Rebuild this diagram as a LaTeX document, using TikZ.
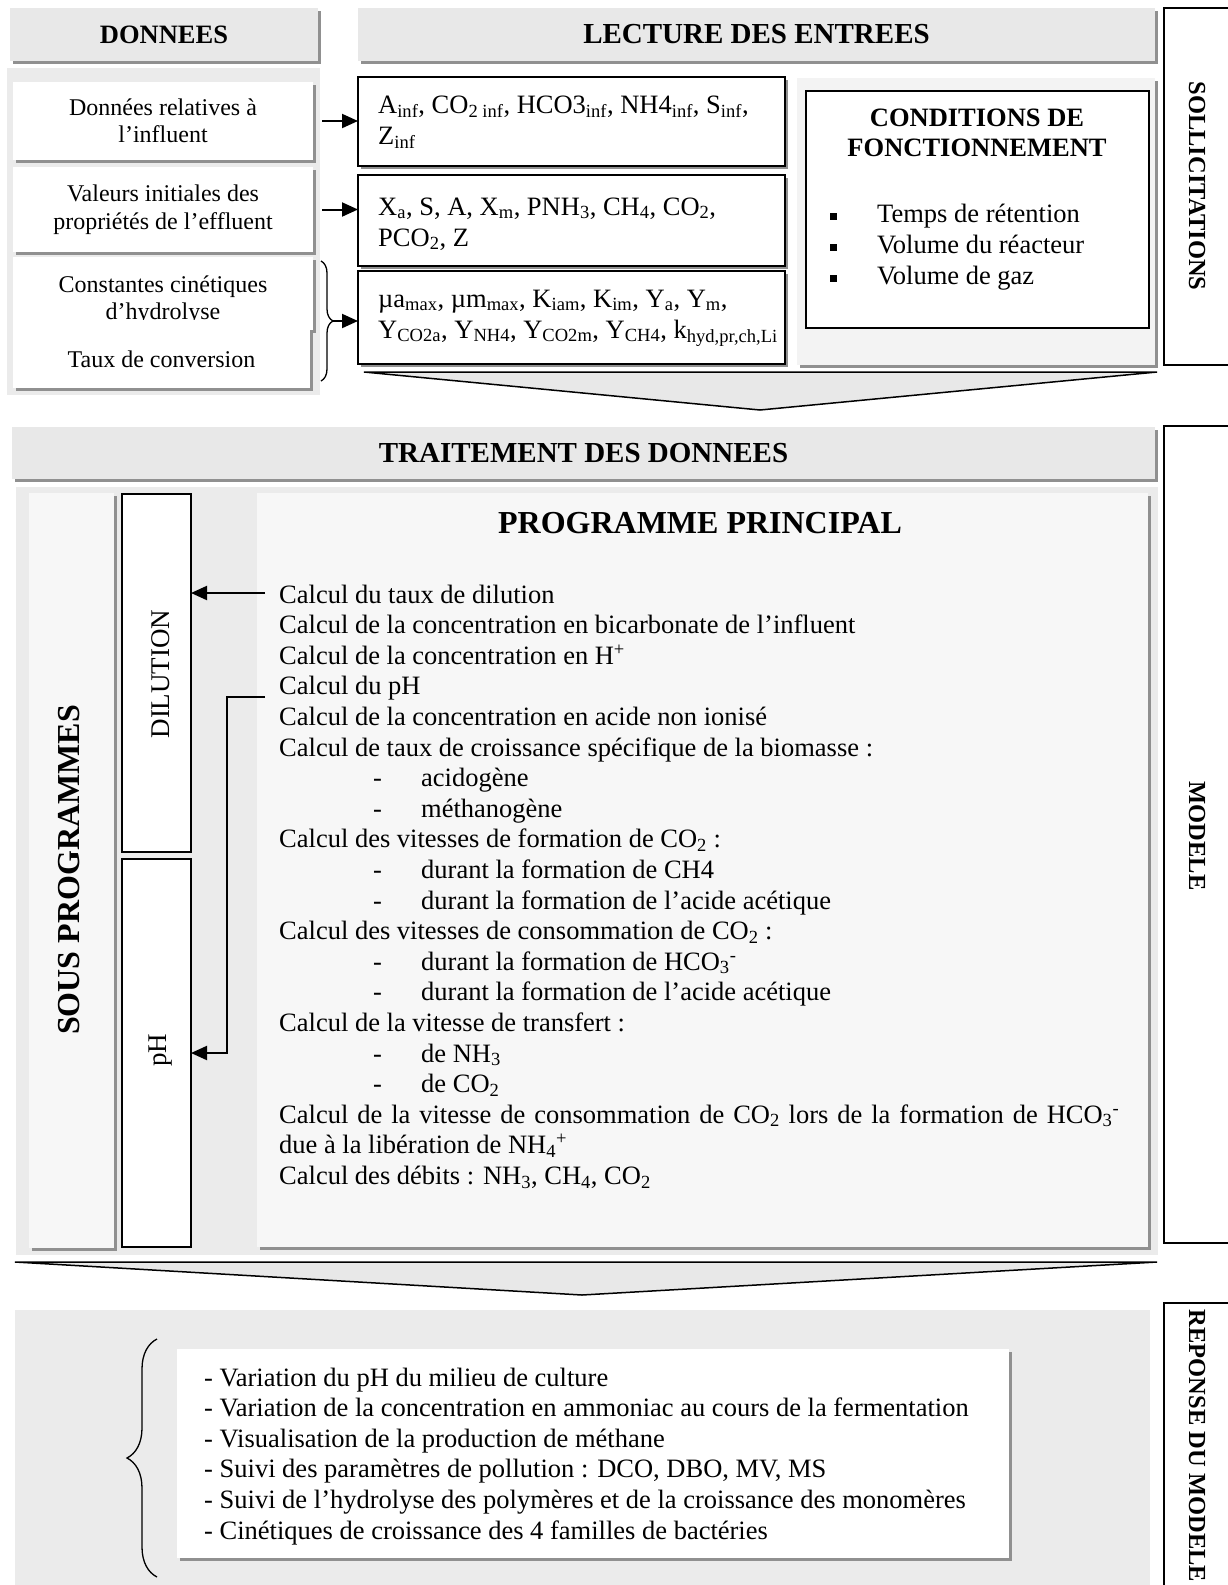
\documentclass[tikz,border=0pt]{standalone}
\usepackage{fontspec}
\setmainfont{Liberation Serif}
\usetikzlibrary{arrows.meta,shadows,decorations.pathreplacing}
\definecolor{hdr}{HTML}{E8E8E8}
\definecolor{pan}{HTML}{EBEBEB}
\definecolor{inn}{HTML}{F7F7F7}
\definecolor{cpn}{HTML}{F3F3F3}
\definecolor{shd}{HTML}{909090}
\newcommand{\sbs}[1]{\textsubscript{#1}}
\newcommand{\sps}[1]{\textsuperscript{#1}}
\newcommand{\dashitem}[1]{\hspace*{94pt}\makebox[48pt][l]{-}#1}
\begin{document}
\begin{tikzpicture}[x=1pt,y=-1pt,
 sh/.style={drop shadow={shadow xshift=3pt,shadow yshift=-3pt,fill=shd,opacity=1}},
 nw/.style={anchor=north west,inner sep=0pt,outer sep=0pt},
 hdrbox/.style={nw,sh,fill=hdr,font=\fontsize{26.5}{30}\selectfont\bfseries},
 lbox/.style={nw,sh,fill=white,align=center,minimum width=300pt,font=\fontsize{24}{27.5}\selectfont},
 ltxt/.style={inner sep=0pt,align=center,font=\fontsize{24}{27.5}\selectfont},
 rbox/.style={nw,sh,fill=white,draw=black,line width=1.4pt,minimum width=427pt},
 sidebox/.style={nw,fill=white,draw=black,line width=1.2pt,minimum width=80pt},
 vtxt/.style={rotate=-90,font=\fontsize{24.5}{28}\selectfont\bfseries,inner sep=0pt},
 txt/.style={inner sep=0pt,font=\fontsize{26.5}{31}\selectfont,align=left},
 arr/.style={line width=2pt,-{Triangle[length=16pt,width=14pt]}},
 chev/.style={fill=hdr,draw=black,line width=1.5pt,line join=miter},
 brc/.style={decorate,line width=1.3pt},
]
\useasboundingbox (0,0) rectangle (1227,1585);

% ---------- top part ----------
\node[hdrbox,minimum width=308pt,minimum height=53pt] (hdon) at (10,8) {DONNEES};
\node[hdrbox,minimum width=797pt,minimum height=53pt,font=\fontsize{29}{32}\selectfont\bfseries] (hlec) at (358,8) {LECTURE DES ENTREES};

\node[nw,fill=pan,minimum width=313pt,minimum height=327pt] (lpan) at (7,68) {};
\node[lbox,minimum height=78pt] (b1) at (13,82) {Données relatives à\\l’influent};
\node[lbox,minimum height=85pt] (b2) at (13,167) {Valeurs initiales des\\propriétés de l’effluent};
\node[lbox,minimum height=73pt] (b3) at (13,257) {};
\begin{scope}
\clip (13,257) rectangle (313,319);
\node[ltxt] (t3) at (163,300) {Constantes cinétiques\\d’hydrolyse};
\end{scope}
\node[lbox,minimum width=297pt,minimum height=58pt] (b4) at (13,330) {Taux de conversion};

\node[rbox,minimum height=89pt] (bA) at (358,77) {};
\node[txt,anchor=west] (tA) at (378,122) {A\sbs{inf}, CO\sbs{2 inf}, HCO3\sbs{inf}, NH4\sbs{inf}, S\sbs{inf},\\Z\sbs{inf}};
\node[rbox,minimum height=91pt] (bB) at (358,175) {};
\node[txt,anchor=west] (tB) at (378,224) {X\sbs{a}, S, A, X\sbs{m}, PNH\sbs{3}, CH\sbs{4}, CO\sbs{2},\\PCO\sbs{2}, Z};
\node[rbox,minimum height=93pt] (bC) at (358,271) {};
\node[txt,anchor=west] (tC) at (378,318) {µa\sbs{max}, µm\sbs{max}, K\sbs{iam}, K\sbs{im}, Y\sbs{a}, Y\sbs{m},\\Y\sbs{CO2a}, Y\sbs{NH4}, Y\sbs{CO2m}, Y\sbs{CH4}, k\sbs{hyd,pr,ch,Li}};

\node[nw,sh,fill=cpn,minimum width=358pt,minimum height=287pt] (cpan) at (797,78) {};
\node[nw,fill=white,draw=black,line width=1.4pt,minimum width=343pt,minimum height=237pt] (cbox) at (806,91) {};
\node[inner sep=0pt,align=center,font=\fontsize{26.5}{30}\selectfont\bfseries] (ctit) at (977,133) {CONDITIONS DE\\FONCTIONNEMENT};
\node[txt,anchor=west] (clist) at (830,247) {\begin{tabular}{@{}l@{\hspace{40pt}}l@{}}
\rule[2.5pt]{7pt}{7pt} & Temps de rétention\\
\rule[2.5pt]{7pt}{7pt} & Volume du réacteur\\
\rule[2.5pt]{7pt}{7pt} & Volume de gaz
\end{tabular}};

\node[sidebox,minimum height=357pt] (sol) at (1164,8) {};
\node[vtxt] (solt) at (1197,186) {SOLLICITATIONS};

% arrows of the top part
\draw[brc,decoration={brace,amplitude=12pt}] (321,261) -- (321,381);
\coordinate (br1) at (333,321);
\draw[arr] ([xshift=9pt]b1.east) -- (b1.east -| bA.west);
\draw[arr] ([xshift=9pt]b2.east) -- (b2.east -| bB.west);
\draw[arr] (br1) -- (br1 -| bC.west);

\filldraw[chev] (364,372) -- (1157,372) -- (760,410) -- cycle;

% ---------- middle part ----------
\node[hdrbox,minimum width=1143pt,minimum height=52pt,font=\fontsize{29}{32}\selectfont\bfseries] (htra) at (12,427) {TRAITEMENT DES DONNEES};
\node[nw,fill=pan,minimum width=1142pt,minimum height=768pt] (mpan) at (16,487) {};
\node[nw,sh,fill=inn,minimum width=85pt,minimum height=755pt] (sous) at (29,493) {};
\node[rotate=90,inner sep=0pt,font=\fontsize{32}{36}\selectfont\bfseries] (soust) at (69,870) {SOUS PROGRAMMES};
\node[nw,fill=white,draw=black,line width=1.2pt,minimum width=69pt,minimum height=358pt] (dil) at (122,494) {};
\node[rotate=90,inner sep=0pt,font=\fontsize{27}{30}\selectfont] (dilt) at (161,674) {DILUTION};
\node[nw,fill=white,draw=black,line width=1.2pt,minimum width=69pt,minimum height=388pt] (ph) at (122,859) {};
\node[rotate=90,inner sep=0pt,font=\fontsize{27}{30}\selectfont] (pht) at (161,1050) {pH};
\node[nw,sh,fill=inn,minimum width=891pt,minimum height=754pt] (prog) at (257,493) {};
\node[inner sep=0pt,font=\fontsize{32}{36}\selectfont\bfseries] (progt) at (700,523) {PROGRAMME PRINCIPAL};

\node[anchor=base west,inner sep=0pt] (maintxt) at (279,603) {\begin{minipage}[t]{870pt}\fontsize{26.5}{30.6}\selectfont
Calcul du taux de dilution\\
Calcul de la concentration en bicarbonate de l’influent\\
Calcul de la concentration en H\sps{+}\\
Calcul du pH\\
Calcul de la concentration en acide non ionisé\\
Calcul de taux de croissance spécifique de la biomasse :\\
\dashitem{acidogène}\\
\dashitem{méthanogène}\\
Calcul des vitesses de formation de CO\sbs{2} :\\
\dashitem{durant la formation de CH4}\\
\dashitem{durant la formation de l’acide acétique}\\
Calcul des vitesses de consommation de CO\sbs{2} :\\
\dashitem{durant la formation de HCO\sbs{3}\sps{-}}\\
\dashitem{durant la formation de l’acide acétique}\\
Calcul de la vitesse de transfert :\\
\dashitem{de NH\sbs{3}}\\
\dashitem{de CO\sbs{2}}\\
\makebox[840pt][s]{Calcul de la vitesse de consommation de CO\sbs{2} lors de la formation de HCO\sbs{3}\sps{-}}\\
due à la libération de NH\sbs{4}\sps{+}\\
Calcul des débits : NH\sbs{3}, CH\sbs{4}, CO\sbs{2}
\end{minipage}};

\coordinate (c1) at (265,593);
\coordinate (c4) at (265,697);
\coordinate (cx) at (227,697);
\draw[arr] (c1) -- (c1 -| dil.east);
\draw[arr,line join=miter] (c4) -- (cx) |- (ph.east);

\node[sidebox,minimum height=817pt] (mod) at (1164,426) {};
\node[vtxt] (modt) at (1197,836) {MODELE};

\filldraw[chev] (15,1262) -- (1157,1262) -- (582,1295) -- cycle;

% ---------- bottom part ----------
\node[nw,fill=pan,minimum width=1135pt,minimum height=290pt] (bpan) at (15,1310) {};
\node[nw,sh,fill=white,minimum width=832pt,minimum height=209pt] (res) at (177,1349) {};
\node[anchor=base west,inner sep=0pt] (restxt) at (204,1386) {\begin{minipage}[t]{800pt}\fontsize{26.5}{30.6}\selectfont
- Variation du pH du milieu de culture\\
- Variation de la concentration en ammoniac au cours de la fermentation\\
- Visualisation de la production de méthane\\
- Suivi des paramètres de pollution : DCO, DBO, MV, MS\\
- Suivi de l’hydrolyse des polymères et de la croissance des monomères\\
- Cinétiques de croissance des 4 familles de bactéries
\end{minipage}};
\draw[brc,decoration={brace,amplitude=30pt}] (157,1577) -- (157,1339);

\node[sidebox,minimum height=300pt] (rep) at (1164,1303) {};
\node[vtxt] (rept) at (1197,1446) {REPONSE DU MODELE};
\end{tikzpicture}
\end{document}
